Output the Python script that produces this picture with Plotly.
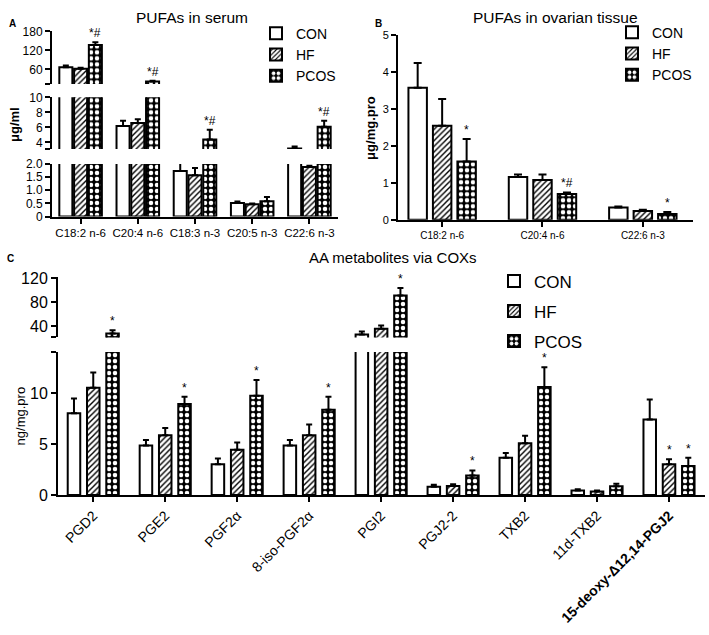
import plotly.graph_objects as go

W, H = 709, 635
FONT = "Liberation Sans, Arial, sans-serif"

# ---------------- data ----------------
groups = ["CON", "HF", "PCOS"]

A_cats = ["C18:2 n-6", "C20:4 n-6", "C18:3 n-3", "C20:5 n-3", "C22:6 n-3"]
A_con = [67, 6.2, 1.73, 0.52, 3.2]
A_con_err = [5, 0.7, 0.35, 0.05, 0.25]
A_hf = [62, 6.6, 1.57, 0.47, 1.88]
A_hf_err = [3, 0.5, 0.28, 0.03, 0.05]
A_pcos = [137, 22, 4.4, 0.58, 6.1]
A_pcos_err = [9, 2, 1.3, 0.16, 0.8]
A_sig_pcos = ["*#", "*#", "*#", "", "*#"]

B_cats = ["C18:2 n-6", "C20:4 n-6", "C22:6 n-3"]
B_con = [3.58, 1.16, 0.33]
B_con_err = [0.67, 0.07, 0.03]
B_hf = [2.55, 1.08, 0.24]
B_hf_err = [0.72, 0.15, 0.03]
B_pcos = [1.58, 0.70, 0.16]
B_pcos_err = [0.61, 0.04, 0.05]
B_sig_pcos = ["*", "*#", "*"]

C_cats = ["PGD2", "PGE2", "PGF2α", "8-iso-PGF2α", "PGI2", "PGJ2-2", "TXB2",
          "11d-TXB2", "<b>15-deoxy-Δ12,14-PGJ2</b>"]
C_con = [8.0, 4.84, 3.02, 4.84, 25.8, 0.8, 3.66, 0.45, 7.4]
C_con_err = [1.45, 0.55, 0.55, 0.55, 5.2, 0.2, 0.45, 0.1, 1.95]
C_hf = [10.5, 5.86, 4.43, 5.86, 35.6, 0.88, 5.06, 0.35, 3.0]
C_hf_err = [1.5, 0.7, 0.72, 1.05, 5.4, 0.17, 0.75, 0.1, 0.5]
C_pcos = [27.4, 8.92, 9.71, 8.35, 91, 1.9, 10.57, 0.85, 2.83]
C_pcos_err = [5.4, 0.7, 1.56, 1.27, 12.7, 0.5, 1.95, 0.25, 0.83]
C_sig_hf = ["", "", "", "", "", "", "", "", "*"]
C_sig_pcos = ["*", "*", "*", "*", "*", "*", "*", "", "*"]

# ---------------- helpers ----------------
def xd(a, b):
    return [a / W, b / W]

def yd(top, bottom):
    return [1 - bottom / H, 1 - top / H]

def style(k):
    if k == 0:
        return dict(color="white", line=dict(color="black", width=2))
    if k == 1:
        return dict(color="white", line=dict(color="black", width=2),
                    pattern=dict(shape="/", fgcolor="black", bgcolor="white",
                                 size=4, solidity=0.35, fillmode="replace"))
    return dict(color="black", line=dict(color="black", width=2),
                pattern=dict(shape=".", fgcolor="white", bgcolor="black",
                             size=6, solidity=0.45, fillmode="replace"))

fig = go.Figure()

def add_panel(xaxis, yaxes, cats, vals, errs, pitch, width, legend, capw):
    for k, (name, v, e) in enumerate(zip(groups, vals, errs)):
        center = (k - 1) * pitch
        for j, ya in enumerate(yaxes):
            fig.add_bar(
                x=cats, y=v, xaxis=xaxis, yaxis=ya, name=name,
                width=width, offset=center - width / 2,
                marker=style(k),
                error_y=dict(type="data", array=e, arrayminus=[0] * len(e),
                             symmetric=False, color="black", thickness=2, width=capw),
                showlegend=(j == 0), legend=legend, legendgroup=legend + name,
            )

def add_sig(xref, seg, vals, errs, sigs, k, pitch, size):
    for i, (v, e, s) in enumerate(zip(vals, errs, sigs)):
        if not s:
            continue
        top = v + e
        yref = seg[0][0]
        for (ya, lo, hi) in seg:
            if lo <= top <= hi:
                yref = ya
        fig.add_annotation(x=i + (k - 1) * pitch, y=top, xref=xref, yref=yref,
                           text=s, showarrow=False, yanchor="bottom", yshift=0,
                           font=dict(size=size, color="black", family=FONT))

# ---------------- panel A ----------------
A_pitch, A_width = 0.258, 0.228
add_panel("x", ["y", "y2", "y3"], A_cats, [A_con, A_hf, A_pcos],
          [A_con_err, A_hf_err, A_pcos_err], A_pitch, A_width, "legend", 3)
A_seg = [("y", 0, 2), ("y2", 3.13, 10), ("y3", 14, 180)]
add_sig("x", A_seg, A_pcos, A_pcos_err, A_sig_pcos, 2, A_pitch, 12)

# ---------------- panel B ----------------
B_pitch, B_width = 0.244, 0.184
add_panel("x2", ["y4"], B_cats, [B_con, B_hf, B_pcos],
          [B_con_err, B_hf_err, B_pcos_err], B_pitch, B_width, "legend2", 4)
add_sig("x2", [("y4", 0, 5)], B_pcos, B_pcos_err, B_sig_pcos, 2, B_pitch, 12)

# ---------------- panel C ----------------
C_pitch, C_width = 0.268, 0.174
add_panel("x3", ["y5", "y6"], C_cats, [C_con, C_hf, C_pcos],
          [C_con_err, C_hf_err, C_pcos_err], C_pitch, C_width, "legend3", 3)
C_seg = [("y5", 0, 14), ("y6", 20.9, 122)]
add_sig("x3", C_seg, C_hf, C_hf_err, C_sig_hf, 1, C_pitch, 12)
add_sig("x3", C_seg, C_pcos, C_pcos_err, C_sig_pcos, 2, C_pitch, 12)

# ---------------- axes ----------------
ax = dict(showline=True, linecolor="black", linewidth=2, ticks="outside",
          ticklen=5, tickwidth=2, tickcolor="black", showgrid=False,
          zeroline=False, color="black")

def yax(domain, rng, tickvals, ticktext, anchor, size):
    d = dict(ax)
    d.update(domain=domain, range=rng, tickvals=tickvals, ticktext=ticktext,
             anchor=anchor, tickfont=dict(size=size, family=FONT, color="black"))
    return d

layout_axes = dict(
    xaxis=dict(ax, domain=xd(52, 338), anchor="y", range=[-0.5, 4.5],
               tickfont=dict(size=11.5, family=FONT, color="black"), tickangle=0),
    yaxis=yax(yd(161, 215), [0, 2], [0, 0.5, 1, 1.5, 2],
              ["0", "0.5", "1.0", "1.5", "2.0"], "x", 12),
    yaxis2=yax(yd(92.7, 145.7), [3.13, 10], [3.13, 4, 6, 8, 10],
               ["", "4", "6", "8", "10"], "x", 12),
    yaxis3=yax(yd(25, 79), [14, 180], [14, 60, 120, 180],
               ["", "60", "120", "180"], "x", 12),
    xaxis2=dict(ax, domain=xd(398, 693), anchor="y4", range=[-0.44, 2.5],
                tickfont=dict(size=10, family=FONT, color="black"), tickangle=0),
    yaxis4=yax(yd(29, 218.3), [0, 5], [0, 1, 2, 3, 4, 5],
               ["0", "1", "2", "3", "4", "5"], "x2", 11),
    xaxis3=dict(ax, domain=xd(58, 705), anchor="y5", range=[-0.49, 8.5],
                tickfont=dict(size=14, family=FONT, color="black"), tickangle=-45),
    yaxis5=yax(yd(354, 500.6), [0, 14], [0, 5, 10, 14], ["0", "5", "10", ""], "x3", 16),
    yaxis6=yax(yd(277, 339), [20.9, 122], [20.9, 40, 80, 120],
               ["", "40", "80", "120"], "x3", 16),
)

def txt(x, y, s, size, angle=0, bold=False):
    fig.add_annotation(x=x / W, y=1 - y / H, xref="paper", yref="paper",
                       text=f"<b>{s}</b>" if bold else s, showarrow=False,
                       textangle=angle, xanchor="center", yanchor="middle",
                       font=dict(size=size, family=FONT, color="black"))

txt(192, 11, "PUFAs in serum", 15.5)
txt(555, 11, "PUFAs in ovarian tissue", 15.5)
txt(393, 257, "AA metabolites via COXs", 15)
txt(12, 17, "A", 10, bold=True)
txt(379, 17, "B", 10, bold=True)
txt(10, 258, "C", 10, bold=True)
txt(15, 120, "μg/ml", 13, angle=-90, bold=True)
txt(371, 124, "μg/mg.pro", 13, angle=-90, bold=True)
txt(20, 420, "ng/mg.pro", 13, angle=-90)

leg = dict(xanchor="left", yanchor="top", bgcolor="rgba(0,0,0,0)",
           borderwidth=0, traceorder="normal")
fig.update_layout(
    width=W, height=H, margin=dict(l=0, r=0, t=0, b=0),
    paper_bgcolor="white", plot_bgcolor="white",
    barmode="overlay", hovermode=False,
    font=dict(family=FONT, color="black"),
    legend=dict(leg, x=256 / W, y=1 - 11 / H, font=dict(size=14, family=FONT),
                tracegroupgap=0),
    legend2=dict(leg, x=612 / W, y=1 - 10 / H, font=dict(size=14, family=FONT),
                 tracegroupgap=0),
    legend3=dict(leg, x=494 / W, y=1 - 263 / H, font=dict(size=17, family=FONT),
                 traceorder="grouped", tracegroupgap=5),
    **layout_axes,
)

fig.write_html("out.html", config={"displayModeBar": False},
               post_script="document.body.style.margin='0';")
